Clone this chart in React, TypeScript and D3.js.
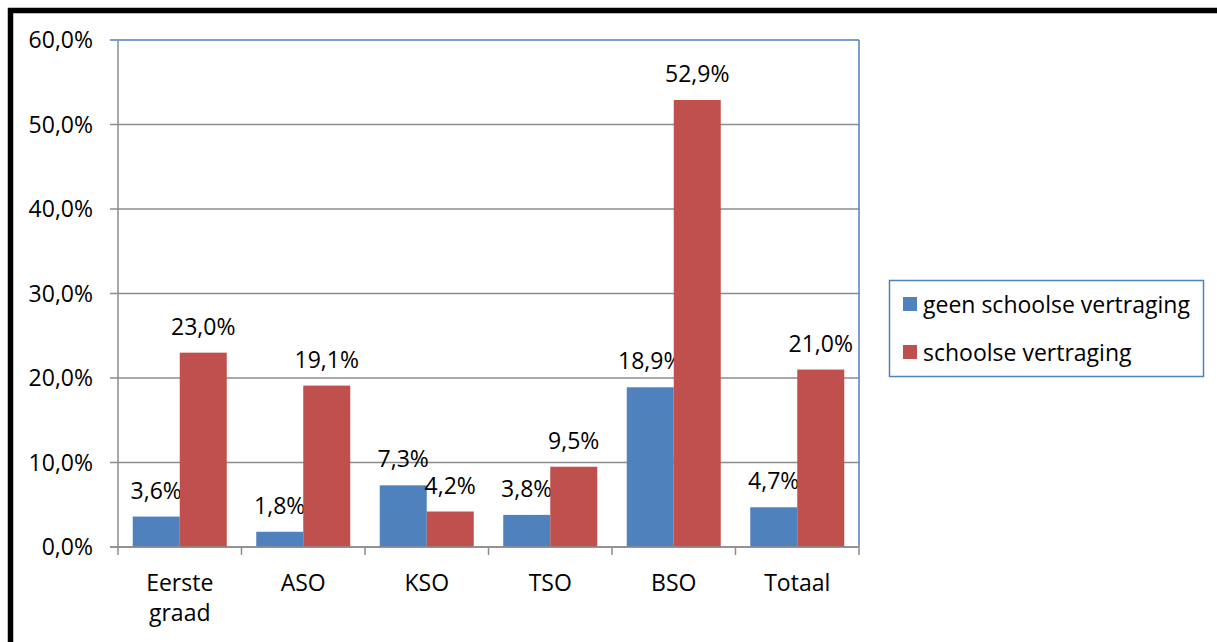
import React from "react";
import * as d3 from "d3";

const categories = [["Eerste", "graad"], ["ASO"], ["KSO"], ["TSO"], ["BSO"], ["Totaal"]];
const seriesNames = ["geen schoolse vertraging", "schoolse vertraging"];
const geenValues = [3.6, 1.8, 7.3, 3.8, 18.9, 4.7];
const vertragingValues = [23.0, 19.1, 4.2, 9.5, 52.9, 21.0];
const yTicks = [0, 10, 20, 30, 40, 50, 60];
const colors = ["#4F81BD", "#C0504D"];

const FONT = "'Open Sans', 'Liberation Sans', sans-serif";
const fmt = (v: number) => v.toFixed(1).replace(".", ",") + "%";

export default function App() {
  const left = 118, right = 859, top = 40, bottom = 547;
  const keys = categories.map((_, i) => String(i));
  const band = d3.scaleBand().domain(keys).range([left, right]).padding(0);
  const y = d3.scaleLinear().domain([0, 60]).range([bottom, top]);
  const inner = d3.scaleBand().domain(["0", "1"]).range([0, 94]);
  const series = [geenValues, vertragingValues];
  const fs = 23;

  return (
    <svg width={1217} height={642} style={{ position: "absolute", left: 0, top: 0 }} fontFamily={FONT}>
      <rect x={0} y={0} width={1217} height={642} fill="#fff" />
      <rect x={10.5} y={10.5} width={1400} height={800} fill="none" stroke="#000" strokeWidth={5.5} />
      {yTicks.map((t) => (
        <line key={"g" + t} x1={left - 8} x2={right} y1={y(t)} y2={y(t)}
          stroke={t === 60 ? "#4F81BD" : "#8c8c8c"} strokeWidth={1.5} />
      ))}
      <line x1={right} x2={right} y1={top} y2={bottom} stroke="#4F81BD" strokeWidth={1.5} />
      {series.map((vals, si) =>
        vals.map((v, ci) => {
          const cx = band(String(ci))! + band.bandwidth() / 2;
          const bx = cx - 47 + inner(String(si))!;
          return (
            <g key={si + "-" + ci}>
              <rect x={bx} y={y(v)} width={inner.bandwidth()} height={bottom - y(v)} fill={colors[si]} />
              <text x={bx + inner.bandwidth() / 2} y={y(v) - 18} textAnchor="middle" fontSize={fs} fill="#000">
                {fmt(v)}
              </text>
            </g>
          );
        })
      )}
      <line x1={left} x2={left} y1={top} y2={bottom} stroke="#8c8c8c" strokeWidth={1.5} />
      <line x1={left - 8} x2={right} y1={bottom} y2={bottom} stroke="#8c8c8c" strokeWidth={1.5} />
      {d3.range(categories.length + 1).map((i) => {
        const xx = left + i * band.bandwidth();
        return <line key={"t" + i} x1={xx} x2={xx} y1={bottom} y2={bottom + 8} stroke="#8c8c8c" strokeWidth={1.5} />;
      })}
      {yTicks.map((t) => (
        <text key={"yl" + t} x={93} y={y(t)} dy="0.36em" textAnchor="end" fontSize={fs} fill="#000">
          {fmt(t)}
        </text>
      ))}
      {categories.map((lines, i) => (
        <text key={"c" + i} x={band(String(i))! + band.bandwidth() / 2} y={591} textAnchor="middle" fontSize={fs} fill="#000">
          {lines.map((l, j) => (
            <tspan key={j} x={band(String(i))! + band.bandwidth() / 2} dy={j === 0 ? 0 : 30}>{l}</tspan>
          ))}
        </text>
      ))}
      <rect x={889.5} y={280.5} width={314} height={96} fill="#fff" stroke="#4F81BD" strokeWidth={1.5} />
      {seriesNames.map((n, i) => (
        <g key={"lg" + i}>
          <rect x={903} y={297 + i * 48} width={14} height={14} fill={colors[i]} />
          <text x={923} y={305 + i * 48} dy="0.36em" fontSize={fs} fill="#000">{n}</text>
        </g>
      ))}
    </svg>
  );
}
